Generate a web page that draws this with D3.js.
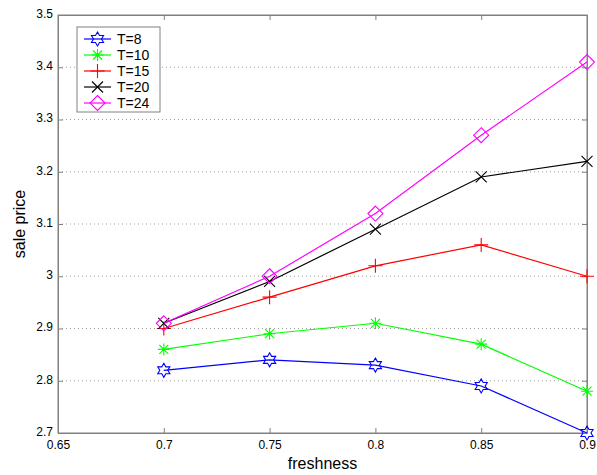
<!DOCTYPE html>
<html lang="en">
<head>
<meta charset="utf-8">
<style>
body { margin: 0; background: #fff; }
svg { font-family: Arial, "Liberation Sans", sans-serif; }
.tick text { font-size: 12px; fill: #000; }
</style>
</head>
<body>
<script src="https://cdn.jsdelivr.net/npm/d3@7"></script>
<script>

var freshness = [0.7, 0.75, 0.8, 0.85, 0.9];
var seriesNames = ["T=8", "T=10", "T=15", "T=20", "T=24"];
var t8  = [2.82, 2.84, 2.83, 2.79, 2.70];
var t10 = [2.86, 2.89, 2.91, 2.87, 2.78];
var t15 = [2.90, 2.96, 3.02, 3.06, 3.00];
var t20 = [2.91, 2.99, 3.09, 3.19, 3.22];
var t24 = [2.91, 3.00, 3.12, 3.27, 3.41];
var xTicks = [0.65, 0.7, 0.75, 0.8, 0.85, 0.9];
var yTicks = [2.7, 2.8, 2.9, 3, 3.1, 3.2, 3.3, 3.4, 3.5];

var colors = ["#0000ff", "#00ff00", "#ff0000", "#000000", "#ff00ff"];
var markers = ["hexagram", "asterisk", "plus", "cross", "diamond"];
var values = [t8, t10, t15, t20, t24];

var width = 597, height = 475;
var plotLeft = 58, plotRight = 587, plotTop = 15, plotBottom = 433;

var x = d3.scaleLinear().domain([0.65, 0.9]).range([plotLeft, plotRight]);
var y = d3.scaleLinear().domain([2.7, 3.5]).range([plotBottom, plotTop]);

var svg = d3.select("body").append("svg")
    .attr("width", width)
    .attr("height", height);

// horizontal dotted grid
svg.append("g").selectAll("line")
    .data(yTicks.slice(1, -1))
    .enter().append("line")
    .attr("x1", plotLeft).attr("x2", plotRight)
    .attr("y1", function(d) { return y(d); })
    .attr("y2", function(d) { return y(d); })
    .attr("stroke", "#a0a0a0")
    .attr("stroke-width", 1)
    .attr("stroke-dasharray", "1,3");

// box
svg.append("rect")
    .attr("x", plotLeft).attr("y", plotTop)
    .attr("width", plotRight - plotLeft).attr("height", plotBottom - plotTop)
    .attr("fill", "none")
    .attr("stroke", "#808080");

var xAxis = svg.append("g")
    .attr("transform", "translate(0," + plotBottom + ")")
    .call(d3.axisBottom(x).tickValues(xTicks).tickSizeInner(-5).tickSizeOuter(0).tickPadding(9)
        .tickFormat(function(d) { return String(+d.toFixed(2)); }));
var yAxis = svg.append("g")
    .attr("transform", "translate(" + plotLeft + ",0)")
    .call(d3.axisLeft(y).tickValues(yTicks).tickSizeInner(-5).tickSizeOuter(0).tickPadding(5)
        .tickFormat(function(d) { return String(+d.toFixed(1)); }));
// top and right ticks
svg.append("g")
    .attr("transform", "translate(0," + plotTop + ")")
    .call(d3.axisTop(x).tickValues(xTicks).tickSizeInner(-5).tickSizeOuter(0).tickFormat(""));
svg.append("g")
    .attr("transform", "translate(" + plotRight + ",0)")
    .call(d3.axisRight(y).tickValues(yTicks).tickSizeInner(-5).tickSizeOuter(0).tickFormat(""));
svg.selectAll(".domain").attr("stroke", "#808080");
svg.selectAll(".tick line").attr("stroke", "#808080");
yAxis.selectAll(".tick text").attr("dy", "0.2em");
xAxis.selectAll(".tick text").attr("dy", "0.6em");

svg.append("text")
    .attr("x", (plotLeft + plotRight) / 2).attr("y", 469)
    .attr("text-anchor", "middle")
    .attr("font-size", "16px")
    .text("freshness");
svg.append("text")
    .attr("transform", "translate(25," + ((plotTop + plotBottom) / 2) + ") rotate(-90)")
    .attr("text-anchor", "middle")
    .attr("font-size", "16px")
    .text("sale price");

function markerPath(type) {
    var p = d3.path(), i, a, r;
    if (type === "hexagram") {
        for (i = 0; i < 12; i++) {
            a = -Math.PI / 2 + i * Math.PI / 6;
            r = i % 2 === 0 ? 7 : 4;
            if (i === 0) p.moveTo(r * Math.cos(a), r * Math.sin(a));
            else p.lineTo(r * Math.cos(a), r * Math.sin(a));
        }
        p.closePath();
    } else if (type === "asterisk") {
        p.moveTo(-6, 0); p.lineTo(6, 0);
        p.moveTo(0, -6); p.lineTo(0, 6);
        p.moveTo(-4.5, -4.5); p.lineTo(4.5, 4.5);
        p.moveTo(-4.5, 4.5); p.lineTo(4.5, -4.5);
    } else if (type === "plus") {
        p.moveTo(-7, 0); p.lineTo(7, 0);
        p.moveTo(0, -7); p.lineTo(0, 7);
    } else if (type === "cross") {
        p.moveTo(-5.5, -5.5); p.lineTo(5.5, 5.5);
        p.moveTo(-5.5, 5.5); p.lineTo(5.5, -5.5);
    } else {
        p.moveTo(0, -7.5); p.lineTo(7.5, 0); p.lineTo(0, 7.5); p.lineTo(-7.5, 0);
        p.closePath();
    }
    return p.toString();
}

var line = d3.line()
    .x(function(d, i) { return x(freshness[i]); })
    .y(function(d) { return y(d); });

values.forEach(function(vals, k) {
    svg.append("path")
        .datum(vals)
        .attr("d", line)
        .attr("fill", "none")
        .attr("stroke", colors[k])
        .attr("stroke-width", 1.2);
    svg.append("g").selectAll("path")
        .data(vals)
        .enter().append("path")
        .attr("transform", function(d, i) { return "translate(" + x(freshness[i]) + "," + y(d) + ")"; })
        .attr("d", markerPath(markers[k]))
        .attr("fill", "none")
        .attr("stroke", colors[k])
        .attr("stroke-width", 1.1);
});

// legend
var legend = svg.append("g").attr("transform", "translate(77,27)");
legend.append("rect")
    .attr("width", 83).attr("height", 85)
    .attr("fill", "#fff")
    .attr("stroke", "#808080");
seriesNames.forEach(function(name, k) {
    var row = legend.append("g").attr("transform", "translate(0," + (12 + k * 16) + ")");
    row.append("line")
        .attr("x1", 7).attr("x2", 34)
        .attr("stroke", colors[k]).attr("stroke-width", 1.2);
    row.append("path")
        .attr("transform", "translate(20.5,0)")
        .attr("d", markerPath(markers[k]))
        .attr("fill", "none")
        .attr("stroke", colors[k])
        .attr("stroke-width", 1.1);
    row.append("text")
        .attr("x", 40).attr("dy", "0.36em")
        .attr("font-size", "14px")
        .text(name);
});

</script>
</body>
</html>
